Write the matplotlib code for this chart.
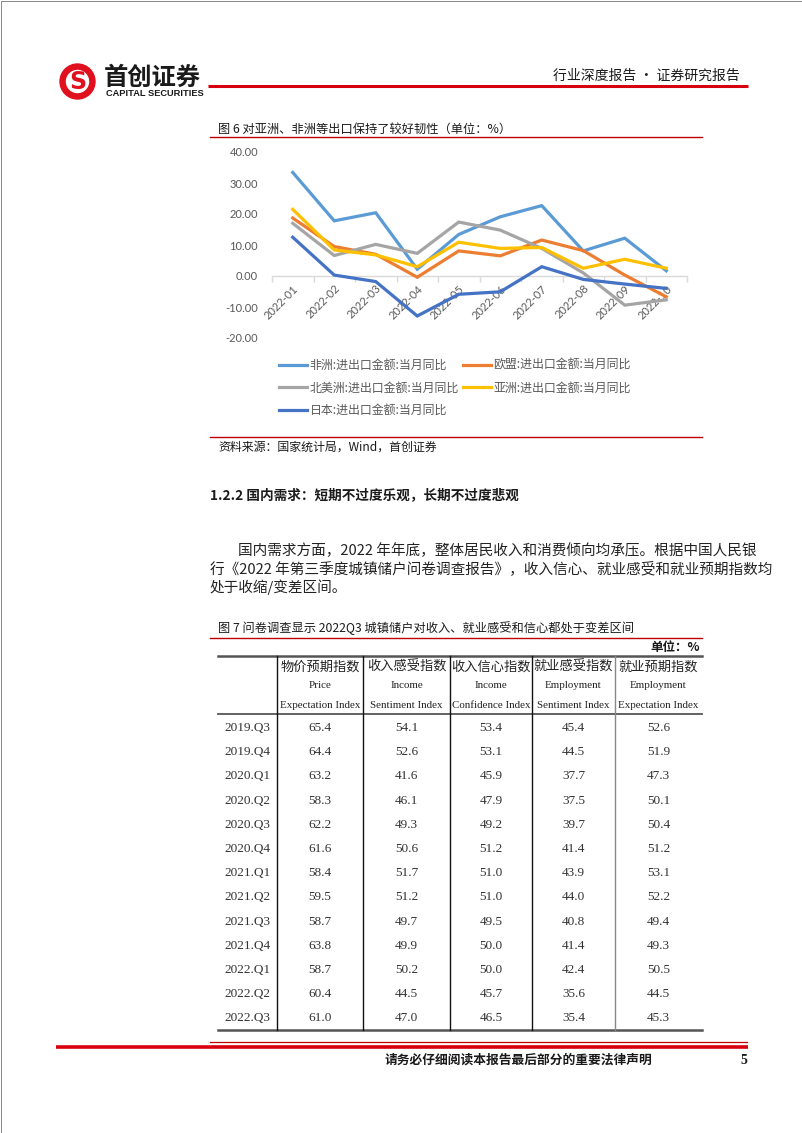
import matplotlib
matplotlib.use("Agg")
import matplotlib.pyplot as plt
from matplotlib.patches import Circle, Rectangle
from matplotlib.ticker import FixedLocator, FuncFormatter

CJK = ["Noto Sans CJK SC", "DejaVu Sans"]
plt.rcParams["font.family"] = CJK

W, H = 802, 1133

# ---- figure 6: export growth by region (%) ----
months = ["2022-01", "2022-02", "2022-03", "2022-04", "2022-05",
          "2022-06", "2022-07", "2022-08", "2022-09", "2022-10"]
africa = [33.4, 17.8, 20.4, 2.2, 13.4, 19.1, 22.7, 8.1, 12.2, 1.7]
eu = [18.7, 9.5, 7.0, -0.4, 8.1, 6.5, 11.6, 8.2, 0.3, -6.7]
north_america = [17.0, 6.6, 10.2, 7.3, 17.4, 14.8, 8.9, 1.0, -9.4, -7.7]
asia = [21.5, 8.4, 6.8, 3.0, 10.9, 8.9, 9.2, 2.5, 5.4, 2.5]
japan = [12.5, 0.3, -1.8, -12.9, -5.9, -5.1, 3.0, -1.1, -2.6, -4.0]

series_names = ["非洲:进出口金额:当月同比", "欧盟:进出口金额:当月同比",
                "北美洲:进出口金额:当月同比", "亚洲:进出口金额:当月同比",
                "日本:进出口金额:当月同比"]
series_values = [africa, eu, north_america, asia, japan]
series_colors = ["#5B9BD5", "#ED7D31", "#A5A5A5", "#FFC000", "#4472C4"]

# ---- figure 7: depositor survey table ----
quarters = ["2019.Q3", "2019.Q4", "2020.Q1", "2020.Q2", "2020.Q3", "2020.Q4",
            "2021.Q1", "2021.Q2", "2021.Q3", "2021.Q4", "2022.Q1", "2022.Q2", "2022.Q3"]
price_expect = [65.4, 64.4, 63.2, 58.3, 62.2, 61.6, 58.4, 59.5, 58.7, 63.8, 58.7, 60.4, 61.0]
income_sent = [54.1, 52.6, 41.6, 46.1, 49.3, 50.6, 51.7, 51.2, 49.7, 49.9, 50.2, 44.5, 47.0]
income_conf = [53.4, 53.1, 45.9, 47.9, 49.2, 51.2, 51.0, 51.0, 49.5, 50.0, 50.0, 45.7, 46.5]
employ_sent = [45.4, 44.5, 37.7, 37.5, 39.7, 41.4, 43.9, 44.0, 40.8, 41.4, 42.4, 35.6, 35.4]
employ_expect = [52.6, 51.9, 47.3, 50.1, 50.4, 51.2, 53.1, 52.2, 49.4, 49.3, 50.5, 44.5, 45.3]

col_cn = ["物价预期指数", "收入感受指数", "收入信心指数", "就业感受指数", "就业预期指数"]
col_en1 = ["Price", "Income", "Income", "Employment", "Employment"]
col_en2 = ["Expectation Index", "Sentiment Index", "Confidence Index",
           "Sentiment Index", "Expectation Index"]
table_cols = [price_expect, income_sent, income_conf, employ_sent, employ_expect]

fig = plt.figure(figsize=(W / 100, H / 100), dpi=100)

# page layer in pixel coordinates
page = fig.add_axes([0, 0, 1, 1])
page.set_xlim(0, W)
page.set_ylim(H, 0)
page.axis("off")

RED = "#D7000F"
DARK_RED = "#C00000"
TXT = "#1A1A1A"

page.add_patch(Rectangle((0.5, 0.5), W - 1, H - 1, fill=False, ec="#888888", lw=0.7))

# header
page.add_patch(Circle((77.5, 81.5), 17.5, color="#E0101E"))
page.add_patch(Circle((77.5, 81.5), 11.0, color="white"))
page.text(77.5, 82, "S", color="#E0101E", fontsize=17, fontweight="bold",
          family="DejaVu Sans", ha="center", va="center")
page.text(104, 78, "首创证券", fontsize=17.5, fontweight="bold", color=TXT,
          ha="left", va="center")
page.text(106, 94, "CAPITAL SECURITIES", fontsize=6.7, fontweight="bold",
          family="Liberation Sans", color=TXT, ha="left", va="center")
page.plot([208, 748], [86, 86], color=RED, lw=2.2, solid_capstyle="butt")
page.text(740, 76, "行业深度报告 · 证券研究报告", fontsize=10, fontweight="medium",
          color=TXT, ha="right", va="center")

# figure 6 frame
page.text(218, 129, "图 6 对亚洲、非洲等出口保持了较好韧性（单位：%）",
          fontsize=8.8, color=TXT, ha="left", va="center")
page.plot([210, 702], [137, 137], color=DARK_RED, lw=1.0)
page.plot([210, 702], [437, 437], color=DARK_RED, lw=1.0)
page.text(218, 447, "资料来源：国家统计局，Wind，首创证券", fontsize=8.6,
          style="italic", color=TXT, ha="left", va="center")

# section text
page.text(210, 495, "1.2.2 国内需求：短期不过度乐观，长期不过度悲观",
          fontsize=9.8, fontweight="bold", color=TXT, ha="left", va="center")
para = ["国内需求方面，2022 年年底，整体居民收入和消费倾向均承压。根据中国人民银",
        "行《2022 年第三季度城镇储户问卷调查报告》，收入信心、就业感受和就业预期指数均",
        "处于收缩/变差区间。"]
for i, line in enumerate(para):
    page.text(238 if i == 0 else 210, 551 + i * 18, line, fontsize=10.55,
              color="#222222", ha="left", va="center")

# figure 7 table
page.text(218, 628, "图 7 问卷调查显示 2022Q3 城镇储户对收入、就业感受和信心都处于变差区间",
          fontsize=8.8, color=TXT, ha="left", va="center")
page.plot([210, 702], [638, 638], color=DARK_RED, lw=1.0)
page.text(700, 648, "单位：%", fontsize=9, fontweight="bold", color=TXT,
          ha="right", va="center")

tx0, tx1, ty0, ty1 = 218, 702, 656, 1030
col_edges = [218, 277, 363, 450, 532, 615, 702]
page.plot([tx0, tx1], [ty0, ty0], color="#555555", lw=1.8)
page.plot([tx0, tx1], [714, 714], color="#555555", lw=1.3)
page.plot([tx0, tx1], [ty1, ty1], color="#555555", lw=1.8)
for k, xe in enumerate(col_edges[1:-1]):
    page.plot([xe, xe], [ty0, ty1], color="#888888" if k == 4 else "#111111", lw=1.0)

for j in range(5):
    cx = (col_edges[j + 1] + col_edges[j + 2]) / 2
    page.text(cx, 667, col_cn[j], fontsize=9.5, color="#222222", ha="center", va="center")
    page.text(cx, 686, col_en1[j], fontsize=7.9, family="Liberation Serif",
              color="#222222", ha="center", va="center")
    page.text(cx, 705, col_en2[j], fontsize=7.9, family="Liberation Serif",
              color="#222222", ha="center", va="center")

row_cx = (col_edges[0] + col_edges[1]) / 2
for i, q in enumerate(quarters):
    ry = 728 + i * 24.2
    page.text(row_cx, ry, q, fontsize=9.5, family="Liberation Serif",
              color="#333333", ha="center", va="center")
    for j, col in enumerate(table_cols):
        cx = (col_edges[j + 1] + col_edges[j + 2]) / 2
        page.text(cx, ry, f"{col[i]:.1f}", fontsize=9.5, family="Liberation Serif",
                  color="#333333", ha="center", va="center")

# footer
page.plot([210, 747], [1042, 1042], color=DARK_RED, lw=0.9)
page.plot([56, 748], [1047, 1047], color=RED, lw=2.6, solid_capstyle="butt")
page.text(518, 1060, "请务必仔细阅读本报告最后部分的重要法律声明", fontsize=9.2,
          fontweight="bold", color=TXT, ha="center", va="center")
page.text(744, 1060, "5", fontsize=10, fontweight="bold", family="Liberation Serif",
          color=TXT, ha="center", va="center")

# ---- line chart ----
ax = fig.add_axes([272 / W, 1 - 338 / H, 415 / W, 186 / H])
ax.patch.set_alpha(0)
x = list(range(len(months)))
handles = []
for name, vals, c in zip(series_names, series_values, series_colors):
    h, = ax.plot(x, vals, color=c, lw=2.3, label=name, solid_joinstyle="miter")
    handles.append(h)

ax.set_xlim(-0.5, len(months) - 0.5)
ax.set_ylim(-20, 40)
ax.set_yticks(range(-20, 41, 10))
ax.yaxis.set_major_formatter(FuncFormatter(lambda v, p: f"{v:.2f}"))
for s in ["top", "right", "left"]:
    ax.spines[s].set_visible(False)
ax.spines["bottom"].set_position(("data", 0))
ax.spines["bottom"].set_color("#D9D9D9")
ax.spines["bottom"].set_linewidth(1.0)
ax.spines["bottom"].set_zorder(0)
ax.set_xticks(x)
ax.set_xticklabels(months)
ax.xaxis.set_minor_locator(FixedLocator([i + 0.5 for i in range(-1, len(months))]))
ax.tick_params(axis="x", which="major", length=0, pad=5, labelsize=8, labelcolor="#595959")
ax.tick_params(axis="x", which="minor", length=4, color="#D9D9D9", width=1.0)
ax.tick_params(axis="y", length=0, pad=10, labelsize=8, labelcolor="#595959")
for lab in ax.get_xticklabels():
    lab.set_rotation(45)
    lab.set_ha("right")
    lab.set_va("top")
    lab.set_rotation_mode("anchor")
    lab.set_family("Lato")
for lab in ax.get_yticklabels():
    lab.set_family("Lato")

order = [0, 2, 4, 1, 3]
leg = ax.legend([handles[i] for i in order], [series_names[i] for i in order],
                ncol=2, frameon=False, loc="upper left",
                bbox_to_anchor=(279 / W, 1 - 359 / H), bbox_transform=fig.transFigure,
                borderpad=0, borderaxespad=0, handlelength=2.35, handletextpad=0.2,
                columnspacing=0.35, labelspacing=0.8,
                prop={"family": CJK, "size": 8.6})
for t in leg.get_texts():
    t.set_color("#595959")

fig.savefig("out.png", dpi=100)
